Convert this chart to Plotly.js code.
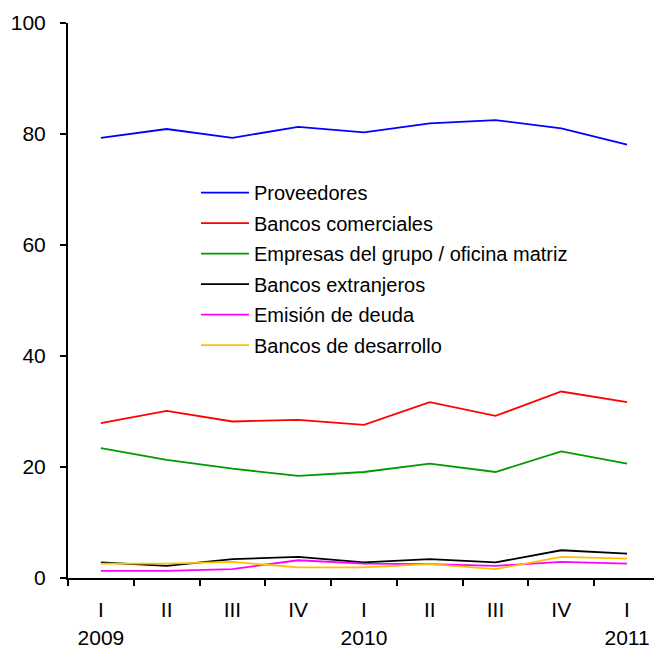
<!DOCTYPE html>
<html>
<head>
<meta charset="utf-8">
<script src="https://cdn.plot.ly/plotly-3.0.1.min.js"></script>
<style>html,body{margin:0;padding:0;background:#fff;}#chart{width:654px;height:652px;}</style>
</head>
<body>
<div id="chart"></div>
<script>
var categories = ["2009-I","2009-II","2009-III","2009-IV","2010-I","2010-II","2010-III","2010-IV","2011-I"];
var tickLabels = ["I<br>2009","II","III","IV","I<br>2010","II","III","IV","I<br>2011"];

var proveedores = [79.3, 80.9, 79.3, 81.3, 80.3, 81.9, 82.5, 81.0, 78.1];
var bancosComerciales = [27.9, 30.1, 28.2, 28.5, 27.6, 31.7, 29.2, 33.6, 31.7];
var empresasGrupo = [23.4, 21.3, 19.7, 18.4, 19.1, 20.6, 19.1, 22.8, 20.6];
var bancosExtranjeros = [2.8, 2.2, 3.4, 3.8, 2.8, 3.4, 2.8, 5.0, 4.4];
var emisionDeuda = [1.3, 1.3, 1.6, 3.2, 2.6, 2.5, 2.2, 2.9, 2.6];
var bancosDesarrollo = [2.6, 2.6, 2.9, 1.9, 1.9, 2.5, 1.6, 3.8, 3.5];

var seriesNames = ["Proveedores","Bancos comerciales","Empresas del grupo / oficina matriz","Bancos extranjeros","Emisión de deuda","Bancos de desarrollo"];
var seriesData = [proveedores, bancosComerciales, empresasGrupo, bancosExtranjeros, emisionDeuda, bancosDesarrollo];
var seriesColors = ["#0000FF","#FF0000","#009900","#000000","#FF00FF","#FFC000"];

var traces = seriesData.map(function(d, i){
  return {
    x: categories, y: d, type: "scatter", mode: "lines",
    name: seriesNames[i], legendgroup: "g" + i,
    line: {color: seriesColors[i], width: 1.8}
  };
});

var FONT = "Arial, 'Liberation Sans', sans-serif";
var layout = {
  width: 654, height: 652,
  margin: {l: 68, r: 0, t: 23, b: 74},
  paper_bgcolor: "#fff", plot_bgcolor: "#fff",
  font: {family: FONT, color: "#000"},
  showlegend: true,
  legend: {
    x: 0.2184, y: 0.7296, xanchor: "left", yanchor: "top",
    bgcolor: "rgba(0,0,0,0)", borderwidth: 0,
    font: {family: FONT, size: 20, color: "#000"},
    tracegroupgap: 1.5, traceorder: "grouped",
    itemwidth: 48
  },
  xaxis: {
    type: "category",
    range: [-0.5, 8.41],
    tickmode: "array", tickvals: categories, ticktext: tickLabels,
    tickson: "boundaries",
    ticks: "outside", ticklen: 6, tickwidth: 2, tickcolor: "#000",
    ticklabelstandoff: 12,
    showline: true, linecolor: "#000", linewidth: 2,
    showgrid: false, zeroline: false,
    tickfont: {family: FONT, size: 21, color: "#000"},
    fixedrange: true
  },
  yaxis: {
    range: [0, 100], dtick: 20, tick0: 0,
    ticks: "outside", ticklen: 6, tickwidth: 2, tickcolor: "#000",
    ticklabelstandoff: 10,
    showline: true, linecolor: "#000", linewidth: 2,
    showgrid: false, zeroline: false,
    tickfont: {family: FONT, size: 21, color: "#000"},
    fixedrange: true
  }
};

Plotly.newPlot("chart", traces, layout, {displayModeBar: false, staticPlot: true});
</script>
</body>
</html>
